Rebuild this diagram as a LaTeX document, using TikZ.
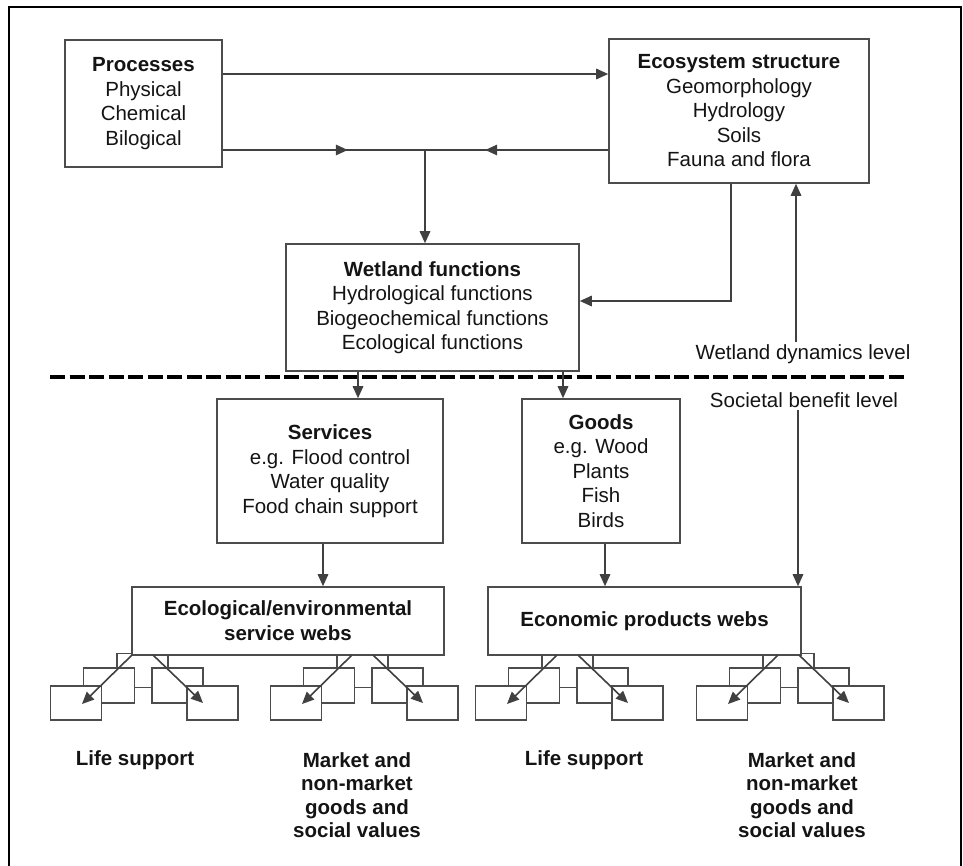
\documentclass[tikz,border=0pt]{standalone}
\usepackage{fontspec}
\setmainfont{Liberation Sans}
\usetikzlibrary{arrows.meta}

\tikzset{
  box/.style={draw=black!70, line width=1.6pt, fill=white, align=center, inner sep=0pt,
    font=\fontsize{20.5}{24.5}\selectfont, text=black!92},
  webbox/.style={draw=black!70, line width=1.5pt, fill=white, inner sep=0pt,
    minimum width=51pt, minimum height=34pt},
  arr/.style={draw=black!75, line width=1.6pt, -{Triangle[length=12pt,width=10.5pt]}},
  lbl/.style={align=center, inner sep=2pt, font=\fontsize{20.5}{24.5}\selectfont, text=black!92},
  boldlbl/.style={lbl, font=\fontsize{20.5}{23.5}\selectfont\bfseries},
  divider/.style={line width=4.5pt, dash pattern=on 15pt off 4.5pt},
}

\begin{document}
\begin{tikzpicture}[x=1pt, y=-1pt]
        \useasboundingbox (0,0) rectangle (963,865);
        \draw[line width=2.5pt] (9,7) rectangle (961,880);

        % wetland dynamics level
        \node[box, minimum width=157pt, minimum height=127pt] at (143.5,103.5) (proc) {\textbf{Processes}\\Physical\\Chemical\\Bilogical};
        \node[box, minimum width=260pt, minimum height=144pt] at (739,111) (eco) {\textbf{Ecosystem structure}\\Geomorphology\\Hydrology\\Soils\\Fauna and flora};
        \node[box, minimum width=293pt, minimum height=127pt] at (432.5,307.5) (wet) {\textbf{Wetland functions}\\Hydrological functions\\Biogeochemical functions\\Ecological functions};

        \draw[arr] ([yshift=29.5pt]proc.east) coordinate (tl) -- (tl -| eco.west);
        \draw[arr, -] ([yshift=-46.5pt]proc.east) coordinate (bl) -- (bl -| eco.west) coordinate (br);
        \draw[arr] (bl) -- ++(125,0);
        \draw[arr] (br) -- ++(-123,0);
        \coordinate (jn) at ([xshift=-7.5pt]wet.north |- bl);
        \draw[arr] (jn) -- ([xshift=-7.5pt]wet.north);
        \draw[arr] ([xshift=-8pt]eco.south) |- ([yshift=6.5pt]wet.east);

        \node[lbl] at (803,354) (dynlbl) {Wetland dynamics level};
        \node[lbl] at (804,400) (soclbl) {Societal benefit level};
        \draw[arr] ([xshift=-7pt]dynlbl.north) -- ([xshift=-7pt]dynlbl.north |- eco.south);

        \draw[divider] (50,377) -- (907,377);

        % societal benefit level
        \node[box, minimum width=226pt, minimum height=144pt] at (330,471) (serv) {\textbf{Services}\\e.g. Flood control\\Water quality\\Food chain support};
        \node[box, minimum width=158pt, minimum height=144pt] at (601,471) (goods) {\textbf{Goods}\\e.g. Wood\\Plants\\Fish\\Birds};

        \draw[arr] ([xshift=-74.5pt]wet.south) -- ([xshift=-74.5pt]wet.south |- serv.north);
        \draw[arr] ([xshift=130.5pt]wet.south) -- ([xshift=130.5pt]wet.south |- goods.north);

        % webs
        \node[webbox] at (142.5,670.5) (e1t) {};
        \node[webbox] at (362.5,670.5) (e2t) {};
        \node[webbox] at (567.5,670.5) (m1t) {};
        \node[webbox] at (788.5,670.5) (m2t) {};

        \node[box, font=\fontsize{20.5}{25}\selectfont\bfseries, minimum width=312pt, minimum height=68pt] at (288,621) (ecoweb) {Ecological/environmental\\service webs};
        \node[box, font=\fontsize{20.5}{25}\selectfont\bfseries, minimum width=313pt, minimum height=68pt] at (644.5,621) (econweb) {Economic products webs};

        \draw[arr] ([xshift=-7pt]serv.south) -- ([xshift=-7pt]serv.south |- ecoweb.north);
        \draw[arr] ([xshift=4pt]goods.south) -- ([xshift=4pt]goods.south |- econweb.north);
        \draw[arr] ([xshift=-6pt]soclbl.south) -- ([xshift=-6pt]soclbl.south |- econweb.north);

        \node[webbox, minimum height=35pt] at (109,685.5) (e1b1) {};
        \node[webbox, minimum height=35pt] at (177.5,685.5) (e1b2) {};
        \node[webbox] at (76,703) (e1f1) {};
        \node[webbox] at (212.5,703) (e1f2) {};
        \coordinate (e1s1) at (132,655); \coordinate (e1e1) at (82,704);
        \coordinate (e1s2) at (153,655); \coordinate (e1e2) at (203,703);
        \draw[arr] (e1s1) -- (e1e1);
        \draw[arr] (e1s2) -- (e1e2);

        \node[webbox, minimum height=35pt] at (329,685.5) (e2b1) {};
        \node[webbox, minimum height=35pt] at (397.5,685.5) (e2b2) {};
        \node[webbox] at (296,703) (e2f1) {};
        \node[webbox] at (432.5,703) (e2f2) {};
        \coordinate (e2s1) at (352,655); \coordinate (e2e1) at (302,704);
        \coordinate (e2s2) at (373,655); \coordinate (e2e2) at (423,703);
        \draw[arr] (e2s1) -- (e2e1);
        \draw[arr] (e2s2) -- (e2e2);

        \node[webbox, minimum height=35pt] at (534,685.5) (m1b1) {};
        \node[webbox, minimum height=35pt] at (602.5,685.5) (m1b2) {};
        \node[webbox] at (501,703) (m1f1) {};
        \node[webbox] at (637.5,703) (m1f2) {};
        \coordinate (m1s1) at (557,655); \coordinate (m1e1) at (507,704);
        \coordinate (m1s2) at (578,655); \coordinate (m1e2) at (628,703);
        \draw[arr] (m1s1) -- (m1e1);
        \draw[arr] (m1s2) -- (m1e2);

        \node[webbox, minimum height=35pt] at (755,685.5) (m2b1) {};
        \node[webbox, minimum height=35pt] at (823.5,685.5) (m2b2) {};
        \node[webbox] at (722,703) (m2f1) {};
        \node[webbox] at (858.5,703) (m2f2) {};
        \coordinate (m2s1) at (778,655); \coordinate (m2e1) at (728,704);
        \coordinate (m2s2) at (799,655); \coordinate (m2e2) at (849,703);
        \draw[arr] (m2s1) -- (m2e1);
        \draw[arr] (m2s2) -- (m2e2);

        % outcomes
        \node[boldlbl] at (135,760) (life1) {Life support};
        \node[boldlbl] at (357,795) (mkt1) {Market and\\non-market\\goods and\\social values};
        \node[boldlbl] at (584,760) (life2) {Life support};
        \node[boldlbl] at (802,795) (mkt2) {Market and\\non-market\\goods and\\social values};
\end{tikzpicture}
\end{document}
